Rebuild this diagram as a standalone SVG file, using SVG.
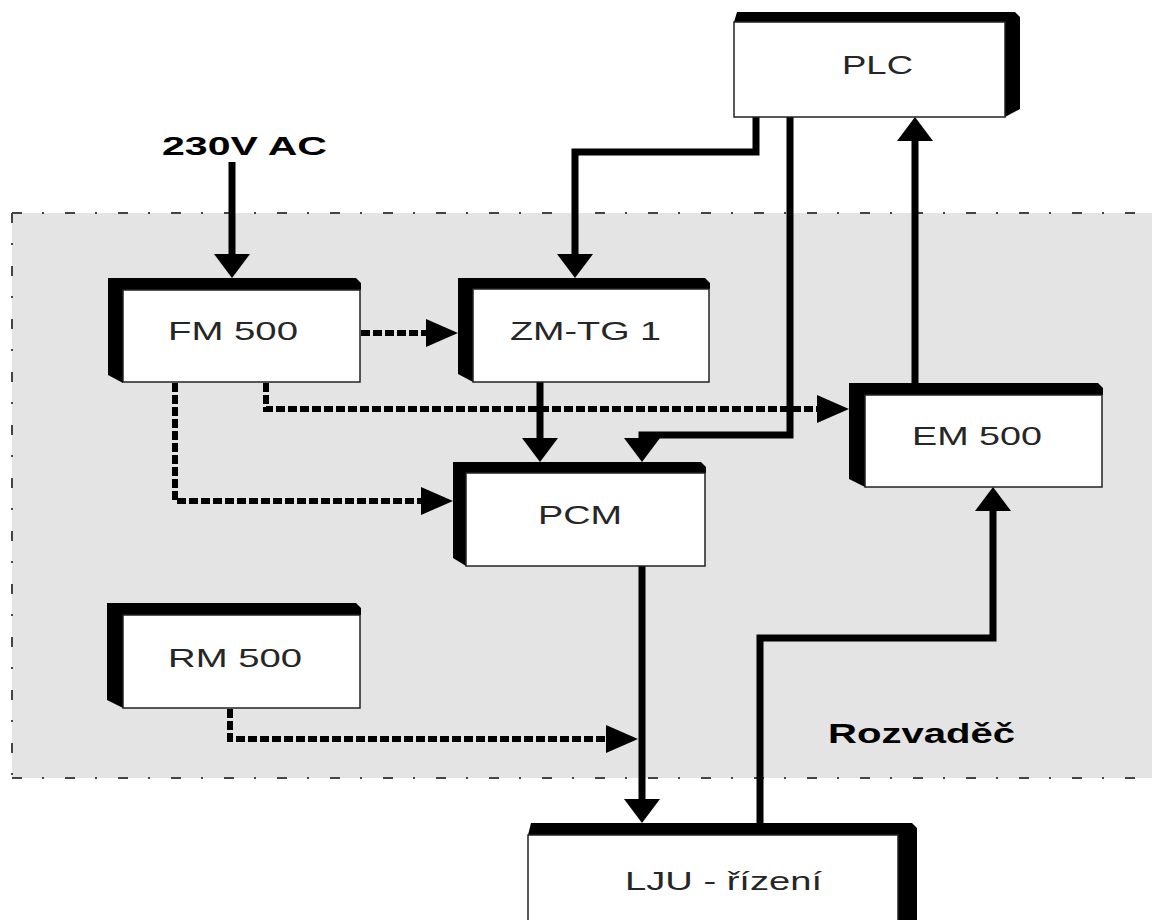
<svg xmlns="http://www.w3.org/2000/svg" width="1152" height="920" viewBox="0 0 1152 920">
<style>
.lbl{font-family:"Liberation Sans",Arial,sans-serif;font-size:25px;fill:#262626;text-anchor:middle}
.bold{font-family:"Liberation Sans",Arial,sans-serif;font-weight:bold;fill:#000;text-anchor:middle}
.shadow{fill:#000}
.face{fill:#fff;stroke:#222;stroke-width:1.5}
.solid{fill:none;stroke:#000;stroke-width:7;marker-end:url(#ah)}
.dot{fill:none;stroke:#000;stroke-width:6;stroke-dasharray:9 3;marker-end:url(#ahd)}
.border{stroke:#444;stroke-width:2;stroke-dasharray:10 20 2 21;fill:none}
</style>
<defs>
<marker id="ah" viewBox="0 0 24 36" refX="0" refY="18" markerWidth="24" markerHeight="36" markerUnits="userSpaceOnUse" orient="auto">
<path d="M0,0 L24,18 L0,36 z" fill="#000"/>
</marker>
<marker id="ahd" viewBox="0 0 32 28" refX="0" refY="14" markerWidth="32" markerHeight="28" markerUnits="userSpaceOnUse" orient="auto">
<path d="M0,0 L32,14 L0,28 z" fill="#000"/>
</marker>
</defs>
<rect width="1152" height="920" fill="#fff"/>
<g id="rozvadec">
<rect x="12" y="213" width="1140" height="565" fill="#e4e4e4"/>
<line class="border" x1="12" y1="213" x2="1152" y2="213"/>
<line class="border" x1="12" y1="213" x2="12" y2="778"/>
<line class="border" x1="12" y1="778" x2="1152" y2="778"/>
<text class="bold" x="921.5" y="743" font-size="28" textLength="187" lengthAdjust="spacingAndGlyphs">Rozvaděč</text>
</g>
<g id="supply">
<text class="bold" x="244.5" y="155" font-size="25" textLength="165" lengthAdjust="spacingAndGlyphs">230V AC</text>
</g>
<g id="connectors">
<path class="solid" d="M232,162 V254"/>
<path class="solid" d="M756,117 V152 H575 V254"/>
<path class="solid" d="M790,117 V435 H642 V438"/>
<path class="solid" d="M540,382 V438"/>
<path class="solid" d="M915,383 V141"/>
<path class="solid" d="M760,823 V638 H993 V511"/>
<path class="solid" d="M642,566 V799"/>
<path class="dot" d="M361,333 H426"/>
<path class="dot" d="M266,383 V409 H817"/>
<path class="dot" d="M175,383 V501 H421"/>
<path class="dot" d="M230,709 V739 H606"/>
</g>
<g id="fm500">
<path class="shadow" d="M108,278 H356 L361,283 V290 H123 V383 L108,375 z"/>
<rect class="face" x="123" y="290" width="237" height="92"/>
<text class="lbl" x="233" y="340" textLength="130" lengthAdjust="spacingAndGlyphs">FM 500</text>
</g>
<g id="zmtg1">
<path class="shadow" d="M458,278 H705 L710,283 V289 H473 V382 L458,374 z"/>
<rect class="face" x="473" y="289" width="236" height="93"/>
<text class="lbl" x="585.5" y="340" textLength="151" lengthAdjust="spacingAndGlyphs">ZM-TG 1</text>
</g>
<g id="pcm">
<path class="shadow" d="M453,462 H701 L706,467 V473 H466 V566 L453,558 z"/>
<rect class="face" x="466" y="473" width="239" height="93"/>
<text class="lbl" x="580" y="524" textLength="84" lengthAdjust="spacingAndGlyphs">PCM</text>
</g>
<g id="em500">
<path class="shadow" d="M849,383 H1098 L1103,388 V395 H865 V487 L849,479 z"/>
<rect class="face" x="865" y="395" width="237" height="92"/>
<text class="lbl" x="977" y="445" textLength="130" lengthAdjust="spacingAndGlyphs">EM 500</text>
</g>
<g id="rm500">
<path class="shadow" d="M107,603 H356 L361,608 V615 H123 V708 L107,700 z"/>
<rect class="face" x="123" y="615" width="237" height="93"/>
<text class="lbl" x="235" y="667" textLength="134" lengthAdjust="spacingAndGlyphs">RM 500</text>
</g>
<g id="plc">
<path class="shadow" d="M734,22 L737,12 H1015 L1020,17 V109 L1005,117 V22 z"/>
<rect class="face" x="734" y="22" width="271" height="95"/>
<text class="lbl" x="877.5" y="74" textLength="71" lengthAdjust="spacingAndGlyphs">PLC</text>
</g>
<g id="lju">
<path class="shadow" d="M528,835 L531,823 H912 L917,828 V930 H898 V835 z"/>
<rect class="face" x="528" y="835" width="370" height="100"/>
<text class="lbl" x="723.5" y="890" textLength="197" lengthAdjust="spacingAndGlyphs">LJU - řízení</text>
</g>
</svg>
